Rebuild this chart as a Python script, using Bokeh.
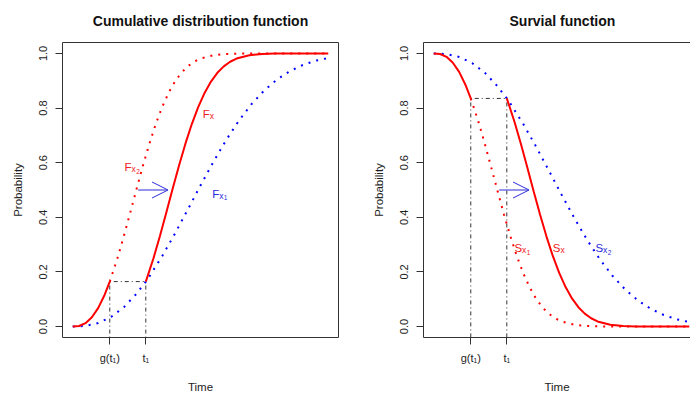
from bokeh.plotting import figure
from bokeh.layouts import row
from bokeh.models import Range1d, FixedTicker, PrintfTickFormatter, Arrow, OpenHead, LinearAxis
from bokeh.core.properties import value
from bokeh.embed import file_html
from bokeh.resources import INLINE

# ---------------- data ----------------
# Fx1 (blue dotted, left) and Sx2 = survival of it (blue dotted, right)
time_x1 = [0, 0.5, 1, 1.5, 2, 2.5, 2.86, 3, 3.5, 4, 4.5, 5, 5.5, 6, 6.5, 7, 7.5, 8, 8.5, 9, 9.5, 10]
cdf_x1 = [0, 0.0023, 0.0129, 0.0352, 0.0709, 0.1206, 0.1647, 0.1835, 0.2577, 0.3405, 0.4280, 0.5167,
          0.6025, 0.6824, 0.7536, 0.8148, 0.8651, 0.9050, 0.9354, 0.9576, 0.9732, 0.9836]
surv_x2 = [1, 0.9977, 0.9871, 0.9648, 0.9291, 0.8794, 0.8353, 0.8165, 0.7423, 0.6595, 0.5720, 0.4833,
           0.3975, 0.3176, 0.2464, 0.1852, 0.1349, 0.0950, 0.0646, 0.0424, 0.0268, 0.0164]

# early part of the red solid curve (before g(t1))
time_early = [0, 0.25, 0.5, 0.75, 1.0, 1.25, 1.45]
cdf_early = [0, 0.0022, 0.0125, 0.0340, 0.0686, 0.1167, 0.1647]
surv_early = [1, 0.9978, 0.9875, 0.9660, 0.9314, 0.8833, 0.8353]

# Fx2 (red dotted, left) / Sx1 (red dotted, right), from g(t1) on
time_x2 = [1.45, 1.75, 2.0, 2.25, 2.5, 2.75, 3.0, 3.25, 3.5, 3.75, 4.0, 4.25, 4.5, 4.75, 5.0,
           5.5, 6.0, 6.5, 7.0, 8.0, 9.0, 10.0]
cdf_x2 = [0.1647, 0.2501, 0.3309, 0.4170, 0.5044, 0.5897, 0.6696, 0.7415, 0.8037, 0.8555, 0.8970,
          0.9290, 0.9527, 0.9696, 0.9812, 0.9935, 0.9981, 0.9995, 0.9999, 1.0, 1.0, 1.0]
surv_x1 = [0.8353, 0.7499, 0.6691, 0.5830, 0.4956, 0.4103, 0.3304, 0.2585, 0.1963, 0.1445, 0.1030,
           0.0710, 0.0473, 0.0304, 0.0188, 0.0065, 0.0019, 0.0005, 0.0001, 0.0, 0.0, 0.0]

# Fx (red solid, left) / Sx (red solid, right), from t1 on
time_x = [2.86, 3.16, 3.41, 3.66, 3.91, 4.16, 4.41, 4.66, 4.91, 5.16, 5.41, 5.66, 5.91, 6.16, 6.41,
          6.91, 7.41, 7.91, 8.41, 10.0]
cdf_x = [0.1647, 0.2501, 0.3309, 0.4170, 0.5044, 0.5897, 0.6696, 0.7415, 0.8037, 0.8555, 0.8970,
         0.9290, 0.9527, 0.9696, 0.9812, 0.9935, 0.9981, 0.9995, 1.0, 1.0]
surv_x = [0.8353, 0.7499, 0.6691, 0.5830, 0.4956, 0.4103, 0.3304, 0.2585, 0.1963, 0.1445, 0.1030,
          0.0710, 0.0473, 0.0304, 0.0188, 0.0065, 0.0019, 0.0005, 0.0, 0.0]

# reference times and levels
tick_times = [1.45, 2.86]          # g(t1), t1
tick_labels = ["g(t\u2081)", "t\u2081"]
cdf_level = 0.1647
surv_level = 0.8353
arrow_from, arrow_to, arrow_level = 2.56, 3.73, 0.5
y_ticks = [0, 0.2, 0.4, 0.6, 0.8, 1.0]

FONT = "Liberation Sans"
TXT = "#222222"
SX = 276 / 10.8     # px per time unit
SY = 295 / 1.08     # px per probability unit


def base_fig(min_left, min_right, x_end, framed, title, title_align, title_offset):
    p = figure(width=345, height=396, x_range=Range1d(-0.4, x_end), y_range=Range1d(-0.04, 1.04),
               output_backend="svg", toolbar_location=None,
               min_border_left=min_left, min_border_right=min_right,
               min_border_top=42, min_border_bottom=59)
    p.title.text = title
    p.title.align = title_align
    p.title.vertical_align = "top"
    p.title.text_font = FONT
    p.title.text_font_size = "14px"
    p.title.text_font_style = "bold"
    p.title.text_color = "#111111"
    p.title.standoff = 23
    p.title.offset = title_offset
    p.grid.visible = False
    p.background_fill_color = "white"
    p.border_fill_color = "white"
    if framed:
        p.outline_line_color = "#333333"
        p.outline_line_width = 1
        p.outline_line_alpha = 1
    else:
        p.outline_line_color = None
    for ax in (p.xaxis[0], p.yaxis[0]):
        ax.axis_line_color = None if framed else "#333333"
        ax.major_tick_line_color = "#333333"
        ax.major_tick_in = 0
        ax.major_tick_out = 7
        ax.minor_tick_line_color = None
        ax.major_label_text_font = FONT
        ax.major_label_text_font_size = "11px"
        ax.major_label_text_color = TXT
        ax.axis_label_text_font = FONT
        ax.axis_label_text_font_size = "11.5px"
        ax.axis_label_text_font_style = "normal"
        ax.axis_label_text_color = TXT
    p.xaxis.ticker = FixedTicker(ticks=tick_times)
    p.xaxis.major_label_overrides = {tick_times[i]: tick_labels[i] for i in range(2)}
    p.xaxis.major_label_standoff = 7
    p.xaxis.axis_label = "Time"
    p.xaxis.axis_label_standoff = 14
    p.yaxis.ticker = FixedTicker(ticks=y_ticks)
    p.yaxis.formatter = PrintfTickFormatter(format="%.1f")
    p.yaxis.major_label_orientation = "parallel"
    p.yaxis.major_label_standoff = 8
    p.yaxis.axis_label = "Probability"
    p.yaxis.axis_label_standoff = 13
    if not framed:
        top = LinearAxis(ticker=FixedTicker(ticks=[]), axis_line_color="#333333",
                         major_tick_line_color=None, minor_tick_line_color=None,
                         major_label_text_font_size="0px")
        p.add_layout(top, "above")
    return p


def sublabel(p, t, y, main, sub, subsub, color):
    w_main = 7.6 if main == "S" else 7.0
    p.text(x=[t], y=[y], text=[main], text_font=value(FONT), text_font_size="11.5px",
           text_color=color, text_align="left", text_baseline="alphabetic")
    p.text(x=[t + w_main / SX], y=[y - 2 / SY], text=[sub], text_font=value(FONT),
           text_font_size="8.5px", text_color=color, text_align="left", text_baseline="alphabetic")
    if subsub:
        p.text(x=[t + (w_main + 4.6) / SX], y=[y - 4 / SY], text=[subsub], text_font=value(FONT),
               text_font_size="6.5px", text_color=color, text_align="left", text_baseline="alphabetic")


def guides(p, level):
    kw = dict(line_color="#333333", line_width=1, line_dash="1 3 4 3")
    p.line(x=tick_times, y=[level, level], **kw)
    for tt in tick_times:
        p.line(x=[tt, tt], y=[level, -0.04], **kw)


def arrow(p):
    p.add_layout(Arrow(x_start=arrow_from, y_start=arrow_level, x_end=arrow_to, y_end=arrow_level,
                       line_color="#2b2bd9", line_width=1,
                       end=OpenHead(size=16, line_color="#2b2bd9", line_width=1)))


# ---------------- left: CDF ----------------
p1 = base_fig(62, 7, 10.4, True, "Cumulative distribution function", "center", 0)
guides(p1, cdf_level)
p1.line(time_x1, cdf_x1, line_color="blue", line_width=2, line_dash="2 6")
p1.line(time_x2, cdf_x2, line_color="red", line_width=2, line_dash="2 6")
p1.line(time_early, cdf_early, line_color="red", line_width=2)
p1.line(time_x, cdf_x, line_color="red", line_width=2)
arrow(p1)
sublabel(p1, 5.09, 0.779, "F", "x", None, "#ee2222")
sublabel(p1, 2.03, 0.584, "F", "x", "2", "#ee2222")
sublabel(p1, 5.46, 0.486, "F", "x", "1", "#2b2bd9")

# ---------------- right: survival ----------------
p2 = base_fig(78, 0, 10.4 - 9 / SX, False, "Survial function", "left", 86)
guides(p2, surv_level)
p2.line(time_x1, surv_x2, line_color="blue", line_width=2, line_dash="2 6")
p2.line(time_x2, surv_x1, line_color="red", line_width=2, line_dash="2 6")
p2.line(time_early, surv_early, line_color="red", line_width=2)
p2.line(time_x, surv_x, line_color="red", line_width=2)
arrow(p2)
sublabel(p2, 3.16, 0.286, "S", "x", "1", "#ee2222")
sublabel(p2, 4.66, 0.286, "S", "x", None, "#ee2222")
sublabel(p2, 6.33, 0.286, "S", "x", "2", "#2b2bd9")

layout = row(p1, p2)
open("out.html", "w").write(file_html(layout, INLINE))
